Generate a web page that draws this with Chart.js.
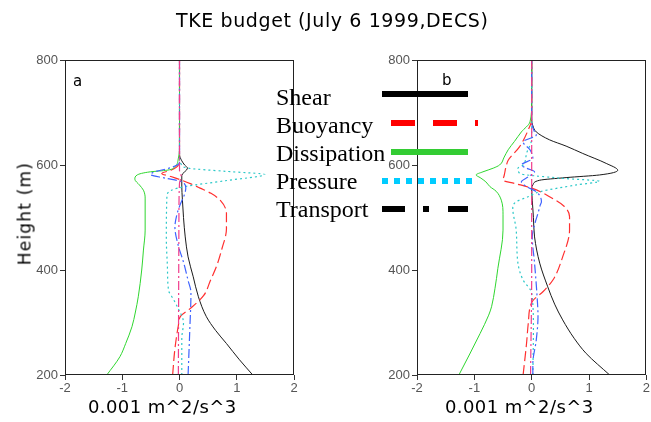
<!DOCTYPE html>
<html>
<head>
<meta charset="utf-8">
<script src="https://cdn.jsdelivr.net/npm/chart.js@4/dist/chart.umd.min.js"></script>
<style>
  html, body { margin: 0; padding: 0; background: #fff; }
  #wrap { position: relative; width: 651px; height: 422px; overflow: hidden; background: #fff; }
  #wrap canvas { position: absolute; left: 0; top: 0; }
  .txt { position: absolute; white-space: nowrap; color: #000; }
  .sans { font-family: "DejaVu Sans", sans-serif; }
  .serif { font-family: "Liberation Serif", "Times New Roman", serif; font-size: 24px; line-height: 24px; }
  .key { position: absolute; height: 6px; }
</style>
</head>
<body>
<div id="wrap">
  <canvas id="panelA" width="651" height="422"></canvas>
  <canvas id="panelB" width="651" height="422"></canvas>

  <div class="txt sans" id="title" style="left:176px; top:11px; font-size:19px; line-height:19px; letter-spacing:0.6px;">TKE budget (July 6 1999,DECS)</div>
  <div class="txt sans" style="left:88px; top:398px; font-size:18px; line-height:18px; letter-spacing:0.4px;">0.001 m^2/s^3</div>
  <div class="txt sans" style="left:445px; top:398px; font-size:18px; line-height:18px; letter-spacing:0.4px;">0.001 m^2/s^3</div>
  <div class="txt sans" style="left:-35px; top:205px; width:120px; text-align:center; font-size:17px; line-height:17px; letter-spacing:1.2px; transform:rotate(-90deg);">Height (m)</div>
  <div class="txt sans" style="left:73px; top:74px; font-size:15px; line-height:15px;">a</div>
  <div class="txt sans" style="left:442px; top:73px; font-size:15px; line-height:15px;">b</div>

  <!-- legend -->
  <div class="txt serif" style="left:276px; top:85px;">Shear</div>
  <div class="txt serif" style="left:276px; top:113px;">Buoyancy</div>
  <div class="txt serif" style="left:276px; top:141px;">Dissipation</div>
  <div class="txt serif" style="left:276px; top:169px;">Pressure</div>
  <div class="txt serif" style="left:276px; top:197px;">Transport</div>

  <div class="key" style="left:382px; top:91px; width:86px; background:#000;"></div>
  <div class="key" style="left:391px; top:120px; width:24px; background:#ff0000;"></div>
  <div class="key" style="left:433px; top:120px; width:24px; background:#ff0000;"></div>
  <div class="key" style="left:475px; top:120px; width:3px; background:#ff0000;"></div>
  <div class="key" style="left:391px; top:149px; width:77px; background:#33cc33;"></div>
  <div class="key" style="left:382px; top:178px; width:90px; background:repeating-linear-gradient(to right, #00ccff 0px, #00ccff 6px, transparent 6px, transparent 12px);"></div>
  <div class="key" style="left:382px; top:206px; width:23px; background:#000;"></div>
  <div class="key" style="left:423px; top:206px; width:6px; background:#000;"></div>
  <div class="key" style="left:448px; top:206px; width:20px; background:#000;"></div>
</div>

<script>
// ---- Panel a profiles: heights (m) and values (0.001 m^2/s^3) ----
const shearA_h = [200, 230, 260, 285, 311, 349, 387, 425, 463, 500, 535, 560, 580, 594, 600, 608, 620, 800];
const shearA_v = [1.28, 1.04, 0.82, 0.63, 0.47, 0.33, 0.24, 0.15, 0.10, 0.07, 0.05, 0.04, 0.04, 0.14, 0.09, 0.04, 0, 0];

const buoyA_h = [200, 250, 294, 312, 326, 351, 380, 408, 440, 478, 508, 533, 546, 556, 564, 571, 578, 584, 590, 600, 620, 800];
const buoyA_v = [-0.12, -0.08, -0.02, 0.02, 0.18, 0.42, 0.54, 0.65, 0.74, 0.82, 0.82, 0.71, 0.55, 0.36, 0.20, 0.04, -0.15, -0.31, -0.15, -0.02, 0, 0];

const dissA_h = [200, 235, 260, 292, 320, 349, 400, 438, 476, 537, 552, 562, 573, 581, 587, 590, 597, 613, 629, 800];
const dissA_v = [-1.27, -1.04, -0.94, -0.83, -0.77, -0.72, -0.66, -0.63, -0.60, -0.60, -0.63, -0.70, -0.78, -0.74, -0.51, -0.22, -0.08, -0.02, 0, 0];

const presA_h = [200, 269, 300, 326, 345, 361, 402, 459, 540, 552, 559, 570, 582, 588, 594, 600, 615, 800];
const presA_v = [0.04, 0.04, 0.07, -0.02, -0.11, -0.19, -0.21, -0.23, -0.22, -0.14, 0.10, 0.80, 1.49, 0.80, 0.15, 0.04, 0, 0];

const tranA_h = [200, 287, 357, 380, 415, 446, 482, 508, 524, 545, 556, 568, 575, 582, 587, 595, 605, 800];
const tranA_v = [0.15, 0.18, 0.20, 0.15, 0.07, -0.02, -0.08, -0.04, 0.01, 0.09, 0.11, 0.04, -0.25, -0.51, -0.43, -0.15, 0, 0];

const sumA_h = [200, 500, 565, 578, 590, 800];
const sumA_v = [-0.02, -0.01, 0, 0.03, 0, 0];

// ---- Panel b profiles ----
const shearB_h = [200, 241, 270, 305, 335, 368, 413, 463, 500, 533, 556, 562, 571, 576, 581, 590, 603, 622, 636, 648, 663, 675, 686, 800];
const shearB_v = [1.36, 0.95, 0.74, 0.54, 0.40, 0.28, 0.14, 0.05, 0.03, 0.01, 0, 0.02, 0.14, 0.60, 1.18, 1.50, 1.30, 0.89, 0.60, 0.31, 0.08, 0.02, 0, 0];

const buoyB_h = [200, 260, 298, 340, 359, 381, 425, 476, 502, 521, 537, 556, 565, 571, 580, 600, 609, 635, 667, 686, 800];
const buoyB_v = [-0.15, -0.09, -0.06, 0.01, 0.20, 0.37, 0.54, 0.66, 0.66, 0.57, 0.35, 0, -0.30, -0.50, -0.48, -0.44, -0.41, -0.21, -0.06, 0, 0];

const dissB_h = [200, 240, 279, 314, 330, 365, 403, 476, 505, 533, 550, 559, 568, 576, 581, 587, 594, 600, 615, 629, 645, 663, 682, 720, 800];
const dissB_v = [-1.27, -1.08, -0.90, -0.75, -0.70, -0.64, -0.59, -0.50, -0.50, -0.53, -0.62, -0.73, -0.80, -0.90, -0.97, -0.85, -0.67, -0.56, -0.48, -0.41, -0.30, -0.18, -0.03, 0, 0];

const presB_h = [200, 286, 356, 381, 413, 476, 518, 530, 540, 549, 562, 569, 575, 584, 594, 600, 622, 650, 800];
const presB_v = [0.02, 0.03, 0, -0.15, -0.24, -0.27, -0.33, -0.27, -0.05, 0.14, 0.78, 1.18, 0.49, -0.21, -0.24, -0.15, -0.09, 0, 0];

const tranB_h = [200, 221, 267, 311, 356, 413, 463, 490, 508, 524, 530, 549, 559, 568, 578, 587, 594, 600, 613, 629, 644, 657, 663, 680, 800];
const tranB_v = [0.02, 0.02, 0.08, 0.11, 0.09, 0.05, 0.01, 0.06, 0.11, 0.15, 0.17, 0.08, -0.09, -0.18, -0.05, 0.05, -0.09, -0.18, 0.02, -0.03, -0.15, 0.08, 0.05, 0, 0];

const sumB_h = [200, 400, 600, 800];
const sumB_v = [-0.02, 0, 0, 0];

// axis ticks
const xTicks = [-2, -1, 0, 1, 2];
const yTicks = [200, 400, 600, 800];

// ---- drawing ----
const pts = (h, v) => h.map((y, i) => ({ x: v[i], y: y }));

// "order": higher values are painted first, so the pink sum line ends up on top
const lineStyles = {
  shear: { borderColor: '#1a1a1a', borderWidth: 1, borderDash: [], order: 6 },
  buoy:  { borderColor: '#ff3030', borderWidth: 1.2, borderDash: [10, 4], order: 5 },
  diss:  { borderColor: '#2fd62f', borderWidth: 1, borderDash: [], order: 4 },
  pres:  { borderColor: '#2cc8c8', borderWidth: 1.2, borderDash: [2, 3], order: 3 },
  tran:  { borderColor: '#3f63ff', borderWidth: 1.2, borderDash: [9, 3, 2, 3], order: 2 },
  sum:   { borderColor: '#f03c8c', borderWidth: 1.2, borderDash: [9, 3, 2, 3], order: 1 }
};

function ds(label, style, h, v) {
  return Object.assign({
    label: label,
    data: pts(h, v),
    pointRadius: 0,
    fill: false,
    cubicInterpolationMode: 'monotone'
  }, lineStyles[style]);
}

const frame = {
  id: 'frame',
  afterDatasetsDraw(chart) {
    const a = chart.chartArea, c = chart.ctx;
    c.save();
    c.strokeStyle = '#222';
    c.lineWidth = 1;
    c.strokeRect(Math.round(a.left) + 0.5, Math.round(a.top) + 0.5,
                 Math.round(a.right - a.left) - 1, Math.round(a.bottom - a.top) - 1);
    c.restore();
  }
};

function makeChart(id, sets, pad) {
  return new Chart(document.getElementById(id), {
    type: 'line',
    data: { datasets: sets },
    plugins: [frame],
    options: {
      responsive: false,
      animation: false,
      indexAxis: 'y',
      layout: { padding: pad },
      plugins: { legend: { display: false }, tooltip: { enabled: false }, title: { display: false } },
      scales: {
        x: {
          type: 'linear', min: -2, max: 2,
          afterBuildTicks: s => { s.ticks = xTicks.map(v => ({ value: v })); },
          afterFit: s => { s.height = 22; },
          grid: { drawOnChartArea: false, drawTicks: true, tickLength: 5, color: '#333' },
          border: { display: false },
          ticks: { color: '#555', padding: 1, font: { family: 'Liberation Sans', size: 13 }, maxRotation: 0 }
        },
        y: {
          type: 'linear', min: 200, max: 800, reverse: false,
          afterBuildTicks: s => { s.ticks = yTicks.map(v => ({ value: v })); },
          afterFit: s => { s.width = 40; },
          grid: { drawOnChartArea: false, drawTicks: true, tickLength: 5, color: '#333' },
          border: { display: false },
          ticks: { color: '#555', padding: 2, font: { family: 'Liberation Sans', size: 13 } }
        }
      }
    }
  });
}

makeChart('panelA', [
  ds('Shear', 'shear', shearA_h, shearA_v),
  ds('Buoyancy', 'buoy', buoyA_h, buoyA_v),
  ds('Dissipation', 'diss', dissA_h, dissA_v),
  ds('Pressure', 'pres', presA_h, presA_v),
  ds('Transport', 'tran', tranA_h, tranA_v),
  ds('Sum', 'sum', sumA_h, sumA_v)
], { left: 25, top: 60, right: 357, bottom: 25 });

makeChart('panelB', [
  ds('Shear', 'shear', shearB_h, shearB_v),
  ds('Buoyancy', 'buoy', buoyB_h, buoyB_v),
  ds('Dissipation', 'diss', dissB_h, dissB_v),
  ds('Pressure', 'pres', presB_h, presB_v),
  ds('Transport', 'tran', tranB_h, tranB_v),
  ds('Sum', 'sum', sumB_h, sumB_v)
], { left: 377, top: 60, right: 4, bottom: 25 });
</script>
</body>
</html>
